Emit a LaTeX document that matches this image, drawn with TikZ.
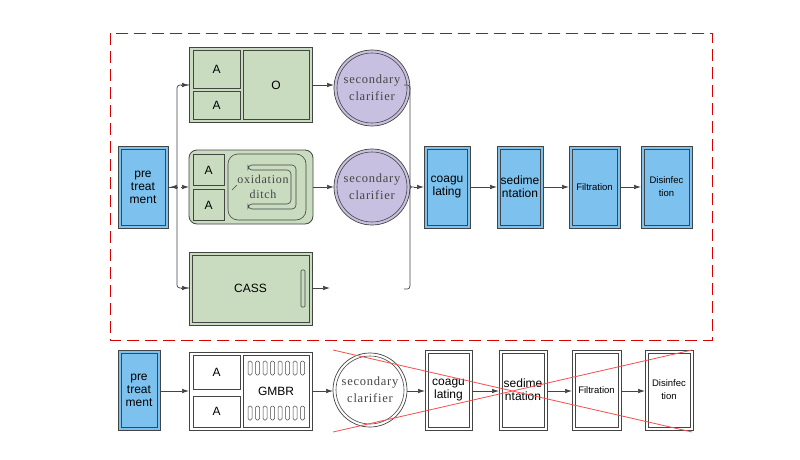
\documentclass[tikz,border=0pt]{standalone}
\usepackage{fontspec}
\setmainfont{Liberation Sans}
\newfontfamily\serifx[LetterSpace=6]{Liberation Serif}
\usetikzlibrary{arrows.meta,calc}
\definecolor{bl}{HTML}{7DC1EE}
\definecolor{gr}{HTML}{C9DCC0}
\definecolor{pu}{HTML}{C8C0E0}
\definecolor{ln}{HTML}{444444}
\newcommand{\tnk}[7]{%
  \draw[ln,fill=#6,line width=0.7pt] (#2,#3) rectangle (#4,#5);
  \draw[ln,line width=0.6pt] ($(#2,#3)+(3,3)$) rectangle ($(#4,#5)+(-3,-3)$);
  \node[align=center,font=\fontsize{12}{13}\selectfont,inner sep=0pt] (#1) at ($(#2,#3)!0.5!(#4,#5)$) {#7};}
\newcommand{\clar}[5]{%
  \draw[ln,fill=#5,line width=0.7pt] (#2,#3) circle (#4);
  \draw[ln,line width=0.6pt] (#2,#3) circle (#4-3);
  \node[align=center,font=\serifx\fontsize{12.5}{17}\selectfont,text=ln,inner sep=0pt] (#1) at (#2,#3) {secondary\\clarifier};}
\begin{document}
\begin{tikzpicture}[x=1pt,y=-1pt,ar/.style={ln,line width=0.7pt,-{Latex[length=7pt,width=4.5pt]}},
  lab/.style={font=\fontsize{12}{13}\selectfont,inner sep=0pt}]
\useasboundingbox (0,0) rectangle (800,460);
\fill[white] (0,0) rectangle (800,460);
% dashed frame
\draw[red!85!black,line width=0.8pt,dash pattern=on 12pt off 6pt] (110,33) rectangle (712,340);
% top row
\tnk{pt}{118}{146}{168}{228}{bl}{pre\\treat\\ment}
% AO
\draw[ln,fill=gr,line width=0.8pt] (189,47) rectangle (312,122);
\draw[ln,line width=0.6pt] (193,50) rectangle (240,88);
\node[lab] (a1) at (216.5,69) {A};
\draw[ln,line width=0.6pt] (193,91) rectangle (240,119);
\node[lab] (a2) at (216.5,105) {A};
\draw[ln,line width=0.6pt] (243,50) rectangle (309,119);
\node[lab] (o) at (276,85) {O};
\coordinate (aoE) at (312,85);
% OD
\draw[ln,fill=gr,line width=0.8pt,rounded corners=8pt] (189,150) rectangle (313,224);
\draw[ln,line width=0.6pt] (193,154) rectangle (224,185);
\node[lab] (a3) at (208.5,170) {A};
\draw[ln,line width=0.6pt] (193,189) rectangle (224,220);
\node[lab] (a4) at (208.5,205) {A};
\draw[ln,line width=0.6pt,rounded corners=10pt] (228,154) rectangle (306,220);
\draw[ln,line width=0.6pt,rounded corners=4pt] (248,165) -- (296,165) -- (296,209) -- (248,209) -- (248,204) -- (291,204) -- (291,170) -- (248,170) -- cycle;
\draw[ln,line width=0.6pt,rounded corners=6pt] (280,182) -- (240,182) -- (232,190);
\node[font=\serifx\fontsize{12}{15}\selectfont,text=ln,align=center,fill=gr,inner sep=0.5pt] (od) at (263,187) {oxidation\\ditch};
\coordinate (odE) at (313,187);
% CASS
\tnk{cass}{189}{252}{312}{325}{gr}{CASS}
\draw[ln,line width=0.6pt,rounded corners=1pt] (301,270) rectangle (305,307);
\coordinate (cassE) at (312,288);
% clarifiers
\clar{c1}{372}{88}{38}{pu}
\clar{c2}{372}{187}{38}{pu}
% split
\draw[ln,line width=0.7pt] (pt.east -| 168,187) -- (177,187);
\draw[ar] (177,187) -- (170,187);
\draw[ln,line width=0.7pt,rounded corners=3pt] (189,85) -- (177,85) -- (177,288) -- (189,288);
\draw[ar] (181,85) -- (189,85);
\draw[ar] (181,187) -- (189,187);
\draw[ar] (181,288) -- (189,288);
\draw[ar] (aoE) -- (334,85);
\draw[ar] (odE) -- (334,187);
\draw[ar] (cassE) -- (330,288);
% merge
\draw[ln,line width=0.7pt] (404,85) .. controls (410,85) .. (410,92) -- (410,182) .. controls (410,187) .. (414,187) .. controls (410,187) .. (410,192) -- (410,282) .. controls (410,289) .. (404,289);
\tnk{cg}{424}{146}{470}{228}{bl}{coagu\\lating}
\tnk{sd}{497}{146}{543}{228}{bl}{sedime\\ntation}
\tnk{fl}{569}{146}{620}{228}{bl}{\fontsize{9.5}{10}\selectfont Filtration}
\tnk{ds}{641}{146}{692}{228}{bl}{\fontsize{9.5}{10}\selectfont Disinfec\\\fontsize{9.5}{10}\selectfont tion}
\draw[ar] (414,187) -- (424,187);
\draw[ar] (470,187) -- (497,187);
\draw[ar] (543,187) -- (569,187);
\draw[ar] (620,187) -- (641,187);
% bottom row
\tnk{pt2}{118}{350}{160}{430}{bl}{pre\\treat\\ment}
\draw[ln,line width=0.8pt] (189,352) rectangle (312,430);
\draw[ln,line width=0.6pt] (193,355) rectangle (240,389);
\node[lab] (a5) at (216.5,372) {A};
\draw[ln,line width=0.6pt] (193,396) rectangle (240,427);
\node[lab] (a6) at (216.5,411.5) {A};
\draw[ln,line width=0.6pt] (243,355) rectangle (309,427);
\node[lab] (gm) at (276,391) {GMBR};
\foreach \i in {0,...,7}{
  \draw[ln,line width=0.5pt,rounded corners=1.5pt] (248+\i*7.5,361) rectangle (252+\i*7.5,375);
  \draw[ln,line width=0.5pt,rounded corners=1.5pt] (248+\i*7.5,406) rectangle (252+\i*7.5,420);}
\clar{c3}{370}{390}{37}{white}
\tnk{cg2}{425}{350}{472}{430}{white}{coagu\\lating}
\tnk{sd2}{499}{350}{547}{430}{white}{sedime\\ntation}
\tnk{fl2}{572}{350}{621}{430}{white}{\fontsize{9.5}{10}\selectfont Filtration}
\tnk{ds2}{645}{350}{693}{430}{white}{\fontsize{9.5}{10}\selectfont Disinfec\\\fontsize{9.5}{10}\selectfont tion}
\draw[ar] (160,391) -- (189,391);
\draw[ar] (312,391) -- (333,391);
\draw[ar] (407,391) -- (425,391);
\draw[ar] (472,391) -- (499,391);
\draw[ar] (547,391) -- (572,391);
\draw[ar] (621,391) -- (645,391);
% red cross
\draw[red!70,line width=0.8pt] (333,350) -- (692,432);
\draw[red!70,line width=0.8pt] (333,432) -- (692,350);
\end{tikzpicture}
\end{document}
